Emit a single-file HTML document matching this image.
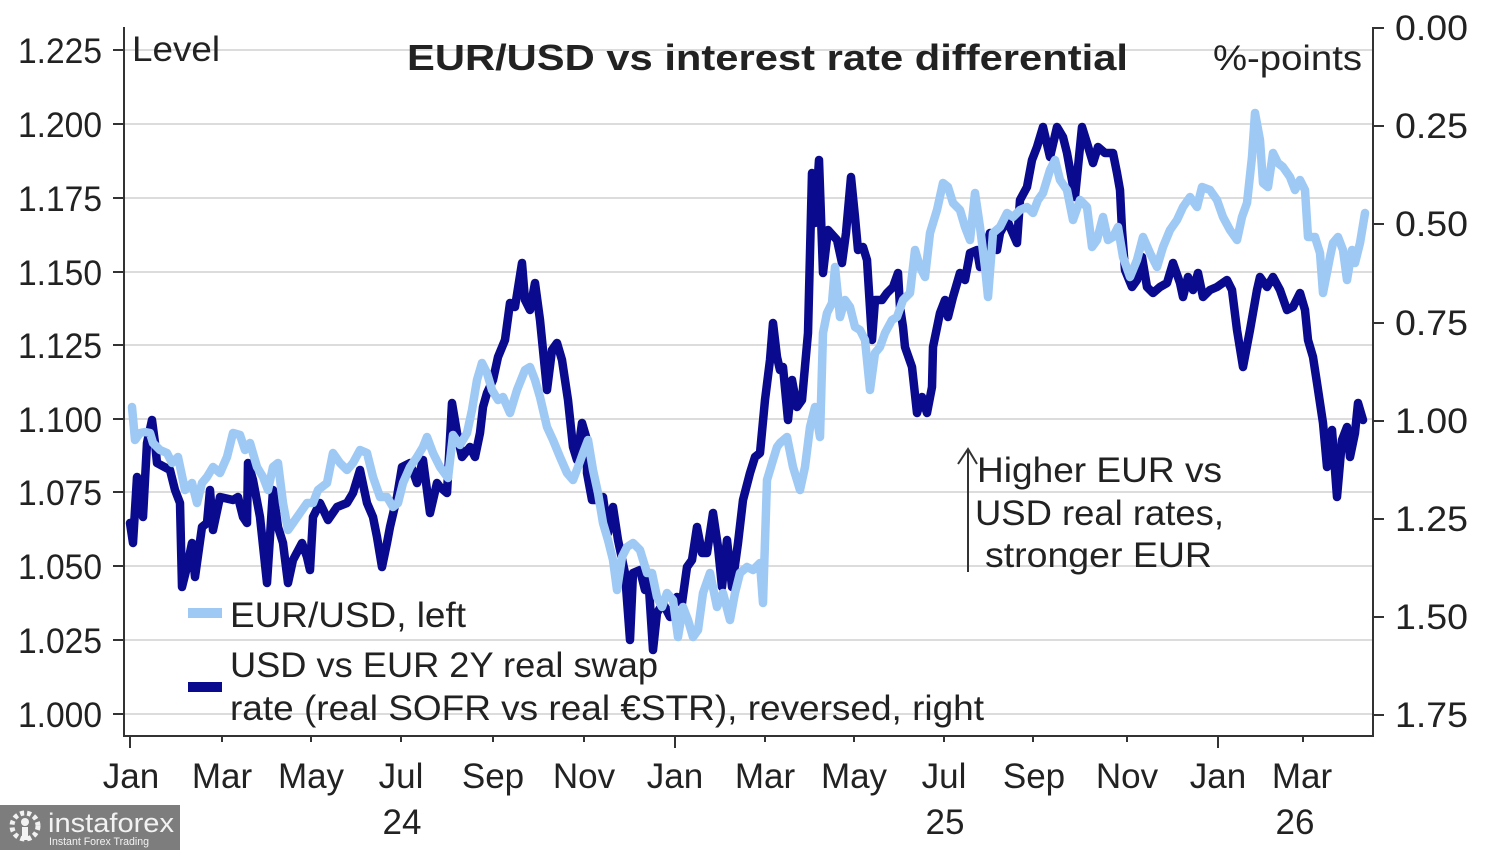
<!DOCTYPE html>
<html><head><meta charset="utf-8"><style>
html,body{margin:0;padding:0;background:#fff;}
svg{display:block;font-family:"Liberation Sans",sans-serif;}
</style></head><body>
<svg width="1500" height="850" viewBox="0 0 1500 850" xmlns="http://www.w3.org/2000/svg">
<rect width="1500" height="850" fill="#fff"/>
<!-- gridlines -->
<g stroke="#dcdcdc" stroke-width="2">
<line x1="124" y1="50" x2="1373" y2="50"/>
<line x1="124" y1="124" x2="1373" y2="124"/>
<line x1="124" y1="198" x2="1373" y2="198"/>
<line x1="124" y1="272" x2="1373" y2="272"/>
<line x1="124" y1="345" x2="1373" y2="345"/>
<line x1="124" y1="419" x2="1373" y2="419"/>
<line x1="124" y1="492" x2="1373" y2="492"/>
<line x1="124" y1="566" x2="1373" y2="566"/>
<line x1="124" y1="640" x2="1373" y2="640"/>
<line x1="124" y1="714" x2="1373" y2="714"/>
</g>
<!-- axes -->
<g stroke="#333" stroke-width="2" fill="none">
<line x1="124" y1="27" x2="124" y2="736"/>
<line x1="1373" y1="27" x2="1373" y2="736"/>
<line x1="123" y1="736" x2="1374" y2="736"/>
<line x1="113" y1="50" x2="124" y2="50"/><line x1="113" y1="124" x2="124" y2="124"/>
<line x1="113" y1="198" x2="124" y2="198"/><line x1="113" y1="272" x2="124" y2="272"/>
<line x1="113" y1="345" x2="124" y2="345"/><line x1="113" y1="419" x2="124" y2="419"/>
<line x1="113" y1="492" x2="124" y2="492"/><line x1="113" y1="566" x2="124" y2="566"/>
<line x1="113" y1="640" x2="124" y2="640"/><line x1="113" y1="714" x2="124" y2="714"/>
<line x1="1373" y1="28" x2="1384" y2="28"/><line x1="1373" y1="126" x2="1384" y2="126"/>
<line x1="1373" y1="224" x2="1384" y2="224"/><line x1="1373" y1="323" x2="1384" y2="323"/>
<line x1="1373" y1="421" x2="1384" y2="421"/><line x1="1373" y1="519" x2="1384" y2="519"/>
<line x1="1373" y1="617" x2="1384" y2="617"/><line x1="1373" y1="715" x2="1384" y2="715"/>
<line x1="130" y1="736" x2="130" y2="748"/>
<line x1="222" y1="736" x2="222" y2="742"/><line x1="311" y1="736" x2="311" y2="742"/>
<line x1="401" y1="736" x2="401" y2="742"/><line x1="493" y1="736" x2="493" y2="742"/>
<line x1="584" y1="736" x2="584" y2="742"/>
<line x1="675" y1="736" x2="675" y2="748"/>
<line x1="765" y1="736" x2="765" y2="742"/><line x1="854" y1="736" x2="854" y2="742"/>
<line x1="944" y1="736" x2="944" y2="742"/><line x1="1033" y1="736" x2="1033" y2="742"/>
<line x1="1127" y1="736" x2="1127" y2="742"/>
<line x1="1218" y1="736" x2="1218" y2="748"/>
<line x1="1303" y1="736" x2="1303" y2="742"/>
</g>
<!-- series: dark then light on top -->
<polyline fill="none" stroke="#0a0a8f" stroke-width="8.5" stroke-linejoin="round" stroke-linecap="round" points="130,523 133,543 137,477 140,483 143,517 147,443 152,420 155,443 157,463 170,470 175,490 180,503 182,587 187,567 192,543 195,577 202,527 207,523 210,490 213,530 220,497 233,500 238,497 243,517 247,523 248,463 253,480 260,517 267,583 273,490 278,527 283,543 288,583 293,560 302,543 307,557 310,570 313,517 320,503 328,520 337,507 347,503 353,493 360,470 367,503 373,517 377,537 382,567 387,543 390,527 397,497 402,467 410,463 417,483 423,460 430,513 437,483 440,487 447,493 452,403 457,433 462,457 470,447 475,457 480,433 483,407 487,393 493,380 498,357 505,340 510,303 515,307 522,263 525,300 530,310 535,283 540,320 547,390 552,350 557,343 562,360 568,400 573,447 577,460 582,423 587,440 587,473 592,500 597,500 603,497 608,533 613,507 618,540 625,573 630,640 633,573 640,570 645,590 648,573 653,650 657,613 663,603 670,617 677,597 682,603 687,567 692,560 697,527 702,553 707,553 713,513 718,547 722,587 727,540 732,587 738,543 743,500 750,473 755,457 760,453 765,400 770,360 773,323 777,357 780,370 783,367 788,420 792,380 797,407 802,400 808,333 812,173 815,223 819,160 823,273 828,230 837,240 842,263 846,233 851,177 855,217 858,250 863,247 867,260 872,340 875,300 882,300 887,293 893,287 898,273 900,307 903,327 905,347 912,367 917,413 922,397 927,413 932,387 933,347 940,313 945,300 948,317 953,297 960,273 965,280 970,253 977,250 980,267 990,233 997,250 1000,233 1007,220 1017,243 1020,200 1027,187 1032,160 1037,147 1043,127 1050,157 1057,127 1063,137 1067,153 1075,197 1082,127 1087,143 1093,163 1098,147 1105,153 1113,153 1117,173 1120,190 1122,230 1125,270 1132,287 1137,280 1142,257 1147,287 1153,293 1160,287 1167,283 1173,263 1180,283 1183,297 1188,277 1193,290 1198,273 1203,297 1210,290 1217,287 1227,280 1232,290 1237,330 1243,367 1250,330 1257,290 1260,277 1267,287 1273,277 1280,290 1287,310 1293,307 1300,293 1305,310 1308,340 1313,357 1317,383 1323,423 1327,467 1332,430 1337,497 1342,440 1347,427 1350,457 1355,433 1358,403 1363,420"/>
<polyline fill="none" stroke="#9ec9f5" stroke-width="8.5" stroke-linejoin="round" stroke-linecap="round" points="132,407 135,440 140,433 145,432 150,433 153,443 160,450 167,453 172,463 178,457 185,490 192,483 197,503 202,483 207,477 213,467 220,473 227,457 233,433 240,435 245,450 250,443 257,467 263,477 268,490 273,467 278,463 283,503 288,530 293,523 300,513 307,503 313,503 318,490 327,483 333,453 340,463 347,470 353,463 360,450 367,453 373,477 380,497 387,497 393,507 398,503 403,483 410,467 417,457 423,447 427,437 433,453 440,467 448,478 453,435 460,445 467,433 472,410 477,380 482,363 487,373 492,390 498,400 503,397 510,413 517,390 525,370 530,367 535,380 540,397 547,427 553,440 560,457 567,473 573,480 578,467 583,453 588,440 593,470 598,493 603,523 608,540 613,560 617,590 622,557 627,547 633,543 640,550 647,573 652,573 657,597 662,607 667,593 673,600 678,637 683,607 688,620 693,637 698,630 703,593 710,573 717,607 723,593 730,620 735,593 740,573 747,567 753,570 760,563 763,603 767,480 773,460 777,447 780,443 787,437 793,467 800,490 805,467 810,427 815,407 820,437 823,333 827,313 832,303 835,267 840,317 845,300 850,307 855,327 860,330 865,340 870,390 875,353 880,347 885,333 892,320 897,317 903,300 910,293 915,250 920,267 925,277 930,233 937,210 943,183 948,187 953,203 960,210 965,227 970,240 975,193 980,227 985,267 988,297 993,233 1000,227 1007,213 1013,217 1020,210 1027,207 1033,213 1038,200 1043,193 1050,170 1055,160 1060,180 1067,190 1073,220 1080,200 1087,207 1092,247 1097,240 1103,217 1108,240 1113,237 1118,227 1123,257 1130,277 1137,260 1143,237 1150,253 1157,267 1163,247 1170,230 1177,220 1183,207 1190,197 1197,207 1202,187 1210,190 1217,200 1223,217 1230,230 1237,240 1242,217 1247,203 1252,157 1255,113 1260,140 1263,183 1268,187 1273,153 1278,163 1283,167 1290,177 1295,190 1300,180 1305,190 1308,237 1315,237 1320,253 1323,293 1330,257 1333,243 1338,237 1343,250 1347,280 1352,250 1355,263 1360,243 1365,213"/>
<!-- text -->
<g fill="#222" font-size="35">
<g text-anchor="end">
<text x="102" y="63" textLength="84" lengthAdjust="spacingAndGlyphs">1.225</text>
<text x="102" y="137" textLength="84" lengthAdjust="spacingAndGlyphs">1.200</text>
<text x="102" y="211" textLength="84" lengthAdjust="spacingAndGlyphs">1.175</text>
<text x="102" y="285" textLength="84" lengthAdjust="spacingAndGlyphs">1.150</text>
<text x="102" y="358" textLength="84" lengthAdjust="spacingAndGlyphs">1.125</text>
<text x="102" y="432" textLength="84" lengthAdjust="spacingAndGlyphs">1.100</text>
<text x="102" y="505" textLength="84" lengthAdjust="spacingAndGlyphs">1.075</text>
<text x="102" y="579" textLength="84" lengthAdjust="spacingAndGlyphs">1.050</text>
<text x="102" y="653" textLength="84" lengthAdjust="spacingAndGlyphs">1.025</text>
<text x="102" y="727" textLength="84" lengthAdjust="spacingAndGlyphs">1.000</text>
</g>
<text x="1395" y="40" textLength="73" lengthAdjust="spacingAndGlyphs">0.00</text>
<text x="1395" y="138" textLength="73" lengthAdjust="spacingAndGlyphs">0.25</text>
<text x="1395" y="236" textLength="73" lengthAdjust="spacingAndGlyphs">0.50</text>
<text x="1395" y="335" textLength="73" lengthAdjust="spacingAndGlyphs">0.75</text>
<text x="1395" y="433" textLength="73" lengthAdjust="spacingAndGlyphs">1.00</text>
<text x="1395" y="531" textLength="73" lengthAdjust="spacingAndGlyphs">1.25</text>
<text x="1395" y="629" textLength="73" lengthAdjust="spacingAndGlyphs">1.50</text>
<text x="1395" y="727" textLength="73" lengthAdjust="spacingAndGlyphs">1.75</text>
<g text-anchor="middle">
<text x="131" y="788">Jan</text>
<text x="222" y="788">Mar</text>
<text x="311" y="788">May</text>
<text x="401" y="788">Jul</text>
<text x="493" y="788">Sep</text>
<text x="584" y="788">Nov</text>
<text x="675" y="788">Jan</text>
<text x="765" y="788">Mar</text>
<text x="854" y="788">May</text>
<text x="944" y="788">Jul</text>
<text x="1034" y="788">Sep</text>
<text x="1127" y="788">Nov</text>
<text x="1218" y="788">Jan</text>
<text x="1302" y="788">Mar</text>
<text x="402" y="834">24</text>
<text x="945" y="834">25</text>
<text x="1295" y="834">26</text>
</g>
<text x="132" y="61" textLength="88" lengthAdjust="spacingAndGlyphs">Level</text>
<text x="1213" y="70" textLength="149" lengthAdjust="spacingAndGlyphs">%-points</text>
<text x="407" y="70" font-weight="bold" font-size="36" textLength="721" lengthAdjust="spacingAndGlyphs">EUR/USD vs interest rate differential</text>
<text x="230" y="627" textLength="236" lengthAdjust="spacingAndGlyphs">EUR/USD, left</text>
<text x="230" y="677" textLength="428" lengthAdjust="spacingAndGlyphs">USD vs EUR 2Y real swap</text>
<text x="230" y="720" textLength="754" lengthAdjust="spacingAndGlyphs">rate (real SOFR vs real €STR), reversed, right</text>
<text x="977" y="482" textLength="245" lengthAdjust="spacingAndGlyphs">Higher EUR vs</text>
<text x="975" y="525" textLength="249" lengthAdjust="spacingAndGlyphs">USD real rates,</text>
<text x="985" y="567" textLength="227" lengthAdjust="spacingAndGlyphs">stronger EUR</text>
</g>
<rect x="188" y="608" width="34" height="10" fill="#9ec9f5"/>
<rect x="188" y="682" width="34" height="10" fill="#0a0a8f"/>
<g stroke="#333" stroke-width="2" fill="none">
<line x1="968" y1="449" x2="968" y2="572"/>
<polyline points="958,464 968,449 977,464"/>
</g>
<!-- watermark -->
<rect x="0" y="805" width="180" height="45" fill="#7d7d7d"/>
<g fill="#f2f2f2">
<circle cx="25" cy="826" r="13" fill="none" stroke="#f2f2f2" stroke-width="5" stroke-dasharray="4 3"/>
<circle cx="25" cy="822" r="4"/>
<rect x="22" y="827" width="6" height="13"/>
</g>
<text x="48" y="832" fill="#f2f2f2" font-size="27" textLength="126" lengthAdjust="spacingAndGlyphs">instaforex</text>
<text x="49" y="845" fill="#f2f2f2" font-size="11" textLength="100" lengthAdjust="spacingAndGlyphs">Instant Forex Trading</text>
</svg>
</body></html>
